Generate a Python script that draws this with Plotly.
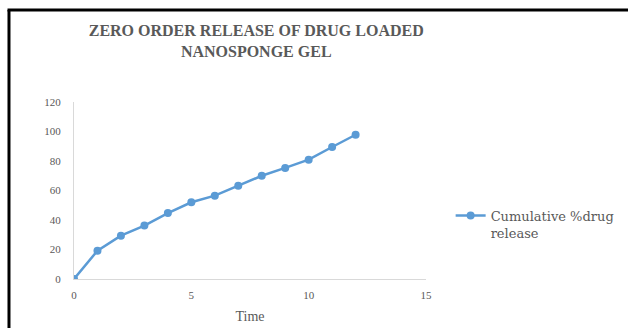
import plotly.graph_objects as go

time = [0, 1, 2, 3, 4, 5, 6, 7, 8, 9, 10, 11, 12]
release = [0, 19.2, 29.4, 36.2, 44.7, 52.0, 56.5, 63.3, 70.0, 75.3, 80.9, 89.5, 97.8]
x_ticks = [0, 5, 10, 15]
y_ticks = [0, 20, 40, 60, 80, 100, 120]

FONT = "Liberation Serif, Times New Roman, serif"
WIDE = "DejaVu Serif, serif"
GRAY = "#595959"
BLUE = "#5b9bd5"

fig = go.Figure()
fig.add_trace(go.Scatter(
    x=time, y=release, mode="lines+markers",
    name="Cumulative %drug<br>release",
    line=dict(color=BLUE, width=2.5),
    marker=dict(color=BLUE, size=8, symbol="circle"),
))

fig.update_layout(
    width=628, height=328,
    margin=dict(l=74, r=202, t=102, b=49, autoexpand=False),
    paper_bgcolor="white", plot_bgcolor="white",
    font=dict(family=FONT, color=GRAY, size=11),
    title=dict(
        text="<b>ZERO ORDER RELEASE OF DRUG LOADED<br>NANOSPONGE GEL</b>",
        x=0.408, xanchor="center", xref="container",
        y=1 - 36 / 328, yanchor="middle", yref="container",
        font=dict(family=FONT, size=16, color=GRAY),
    ),
    showlegend=True,
    legend=dict(
        x=1.07, xanchor="left", y=0.31, yanchor="middle",
        valign="top",
        font=dict(family=WIDE, size=13, color=GRAY),
        bgcolor="rgba(0,0,0,0)",
    ),
    xaxis=dict(
        range=[0, 15], tickvals=x_ticks, showgrid=False, zeroline=False,
        showline=True, linecolor="#d9d9d9", linewidth=1,
        ticks="", ticklabelstandoff=6, automargin=False,
        title=dict(text="Time", font=dict(family=FONT, size=14, color=GRAY), standoff=10),
        tickfont=dict(family=FONT, size=11, color=GRAY),
    ),
    yaxis=dict(
        range=[0, 120], tickvals=y_ticks, showgrid=False, zeroline=False,
        showline=True, linecolor="#d9d9d9", linewidth=1,
        ticks="", ticklabelstandoff=10, automargin=False,
        tickfont=dict(family=FONT, size=11, color=GRAY),
    ),
    shapes=[
        dict(type="line", xref="paper", yref="paper",
             x0=-0.1847, x1=-0.1847, y0=-0.4, y1=1.52,
             line=dict(color="black", width=3)),
        dict(type="line", xref="paper", yref="paper",
             x0=-0.1889, x1=1.8, y0=1.5198, y1=1.5198,
             line=dict(color="black", width=3)),
    ],
)

fig.write_html("out.html")
